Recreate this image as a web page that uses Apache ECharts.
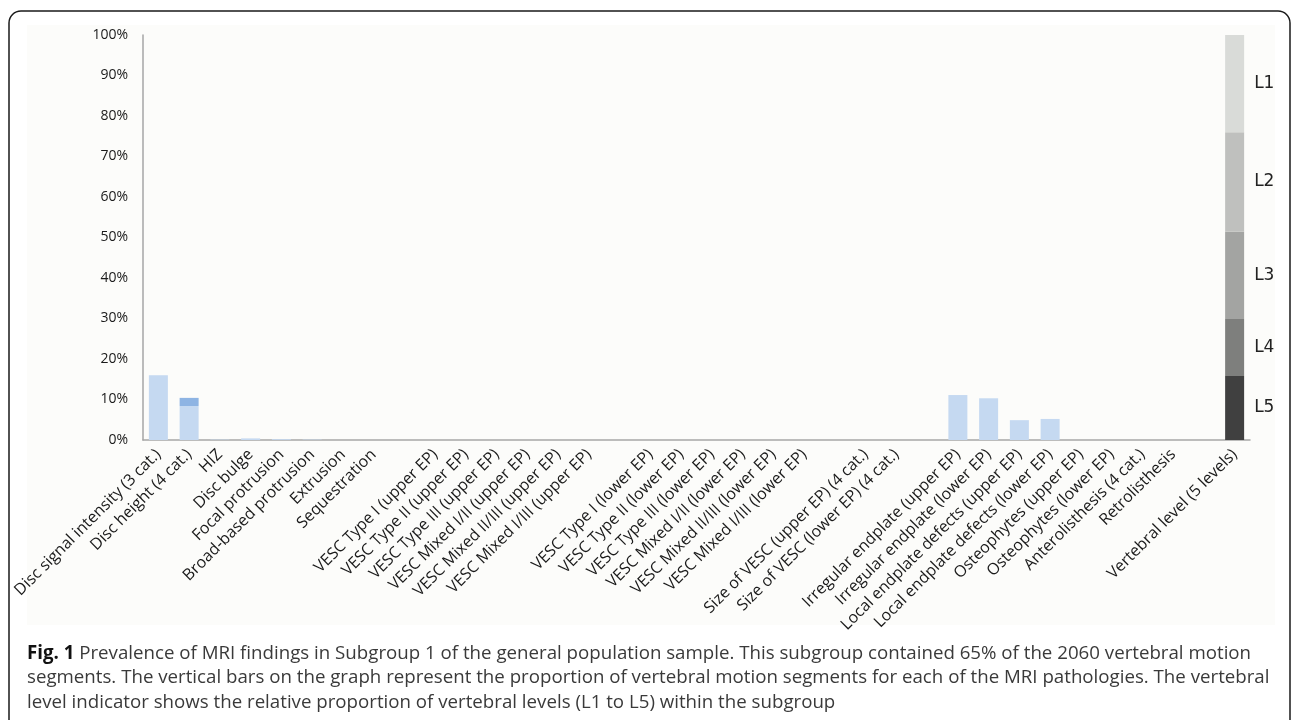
<!DOCTYPE html>
<html>
<head>
<meta charset="utf-8">
<script src="https://cdn.jsdelivr.net/npm/echarts@6/dist/echarts.min.js"></script>
<style>
html,body{margin:0;padding:0;background:#ffffff;}
#main{width:1292px;height:720px;}
</style>
</head>
<body>
<div id="main"></div>
<script>
const categories = [
  'Disc signal intensity (3 cat.)', 'Disc height (4 cat.)', 'HIZ', 'Disc bulge',
  'Focal protrusion', 'Broad-based protrusion', 'Extrusion', 'Sequestration', '',
  'VESC Type I (upper EP)', 'VESC Type II (upper EP)', 'VESC Type III (upper EP)',
  'VESC Mixed I/II (upper EP)', 'VESC Mixed II/III (upper EP)', 'VESC Mixed I/III (upper EP)', '',
  'VESC Type I (lower EP)', 'VESC Type II (lower EP)', 'VESC Type III (lower EP)',
  'VESC Mixed I/II (lower EP)', 'VESC Mixed II/III (lower EP)', 'VESC Mixed I/III (lower EP)', '',
  'Size of VESC (upper EP) (4 cat.)', 'Size of VESC (lower EP) (4 cat.)', '',
  'Irregular endplate (upper EP)', 'Irregular endplate (lower EP)',
  'Local endplate defects (upper EP)', 'Local endplate defects (lower EP)',
  'Osteophytes (upper EP)', 'Osteophytes (lower EP)', 'Anterolisthesis (4 cat.)',
  'Retrolisthesis', '', 'Vertebral level (5 levels)'
];
// Prevalence (%) - main (light) part
const prevalenceMain = [
  16.0, 8.4, 0.1, 0.4, 0.2, 0.1, 0, 0, '-',
  0, 0, 0, 0, 0, 0, '-',
  0, 0, 0, 0, 0, 0, '-',
  0, 0, '-',
  11.1, 10.3, 4.9, 5.2, 0, 0, 0, 0, '-', '-'
];
// Prevalence (%) - upper (darker) category of Disc height
const prevalenceSecond = [
  '-', 2.0, '-', '-', '-', '-', '-', '-', '-',
  '-', '-', '-', '-', '-', '-', '-',
  '-', '-', '-', '-', '-', '-', '-',
  '-', '-', '-',
  '-', '-', '-', '-', '-', '-', '-', '-', '-', '-'
];
// Vertebral level proportions (%)
const levelNames = ['L5', 'L4', 'L3', 'L2', 'L1'];
const levelValues = [15.8, 14.1, 21.5, 24.6, 24.0];
const levelColors = ['#404040', '#7e7f7d', '#a3a4a2', '#bfc0be', '#d9dbd8'];
const yTicks = [0, 10, 20, 30, 40, 50, 60, 70, 80, 90, 100];

const chart = echarts.init(document.getElementById('main'), null, {renderer: 'canvas'});

const lastIdx = categories.length - 1;
const levelSeries = levelNames.map((n, i) => {
  const d = categories.map((c, k) => k === lastIdx ? levelValues[i] : '-');
  return {
    name: n, type: 'bar', stack: 'a', barWidth: 19, data: d,
    itemStyle: {color: levelColors[i]},
    label: {show: true, position: 'right', distance: 10, formatter: n,
      color: '#222', fontSize: 17, fontFamily: 'DejaVu Sans'},
    z: 3
  };
});

const option = {
  backgroundColor: 'transparent',
  animation: false,
  grid: {left: 143, right: 42, top: 35, bottom: 280, containLabel: false},
  xAxis: {
    type: 'category', data: categories,
    axisLine: {lineStyle: {color: '#a6a6a6', width: 1.5}},
    axisTick: {show: false},
    axisLabel: {interval: 0, rotate: 45, margin: 12, color: '#1a1a1a', fontSize: 16, fontFamily: 'Open Sans'}
  },
  yAxis: {
    type: 'value', min: 0, max: 100, interval: 10,
    axisLine: {show: true, lineStyle: {color: '#a6a6a6', width: 1.5}},
    axisTick: {show: false},
    splitLine: {show: false},
    axisLabel: {margin: 15, color: '#1a1a1a', fontSize: 14, fontFamily: 'Open Sans',
      formatter: v => yTicks.includes(v) ? v + '%' : ''}
  },
  series: [
    {name: 'main', type: 'bar', stack: 'a', barWidth: 19, data: prevalenceMain,
      itemStyle: {color: '#c5d9f1'}},
    {name: 'second', type: 'bar', stack: 'a', barWidth: 19, data: prevalenceSecond,
      itemStyle: {color: '#8eb4e3'}}
  ].concat(levelSeries),
  graphic: [
    {type: 'rect', z: -10, silent: true, shape: {x: 27, y: 25, width: 1248, height: 600},
      style: {fill: '#fcfcfa'}},
    {type: 'rect', z: 100, silent: true, shape: {x: 9, y: 11, width: 1281, height: 730, r: 12},
      style: {fill: 'none', stroke: '#1a1a1a', lineWidth: 1.5}},
    {type: 'text', left: 27, top: 641, z: 100, silent: true,
      style: {
        text: '{b|Fig. 1} Prevalence of MRI findings in Subgroup 1 of the general population sample. This subgroup contained 65% of the 2060 vertebral motion\nsegments. The vertical bars on the graph represent the proportion of vertebral motion segments for each of the MRI pathologies. The vertebral\nlevel indicator shows the relative proportion of vertebral levels (L1 to L5) within the subgroup',
        font: '18.7px "Open Sans"', fill: '#3a3a3a', lineHeight: 24.5,
        rich: {b: {font: 'bold 18.7px "Open Sans"', fill: '#111', lineHeight: 24.5}}
      }}
  ]
};
chart.setOption(option);
</script>
</body>
</html>
